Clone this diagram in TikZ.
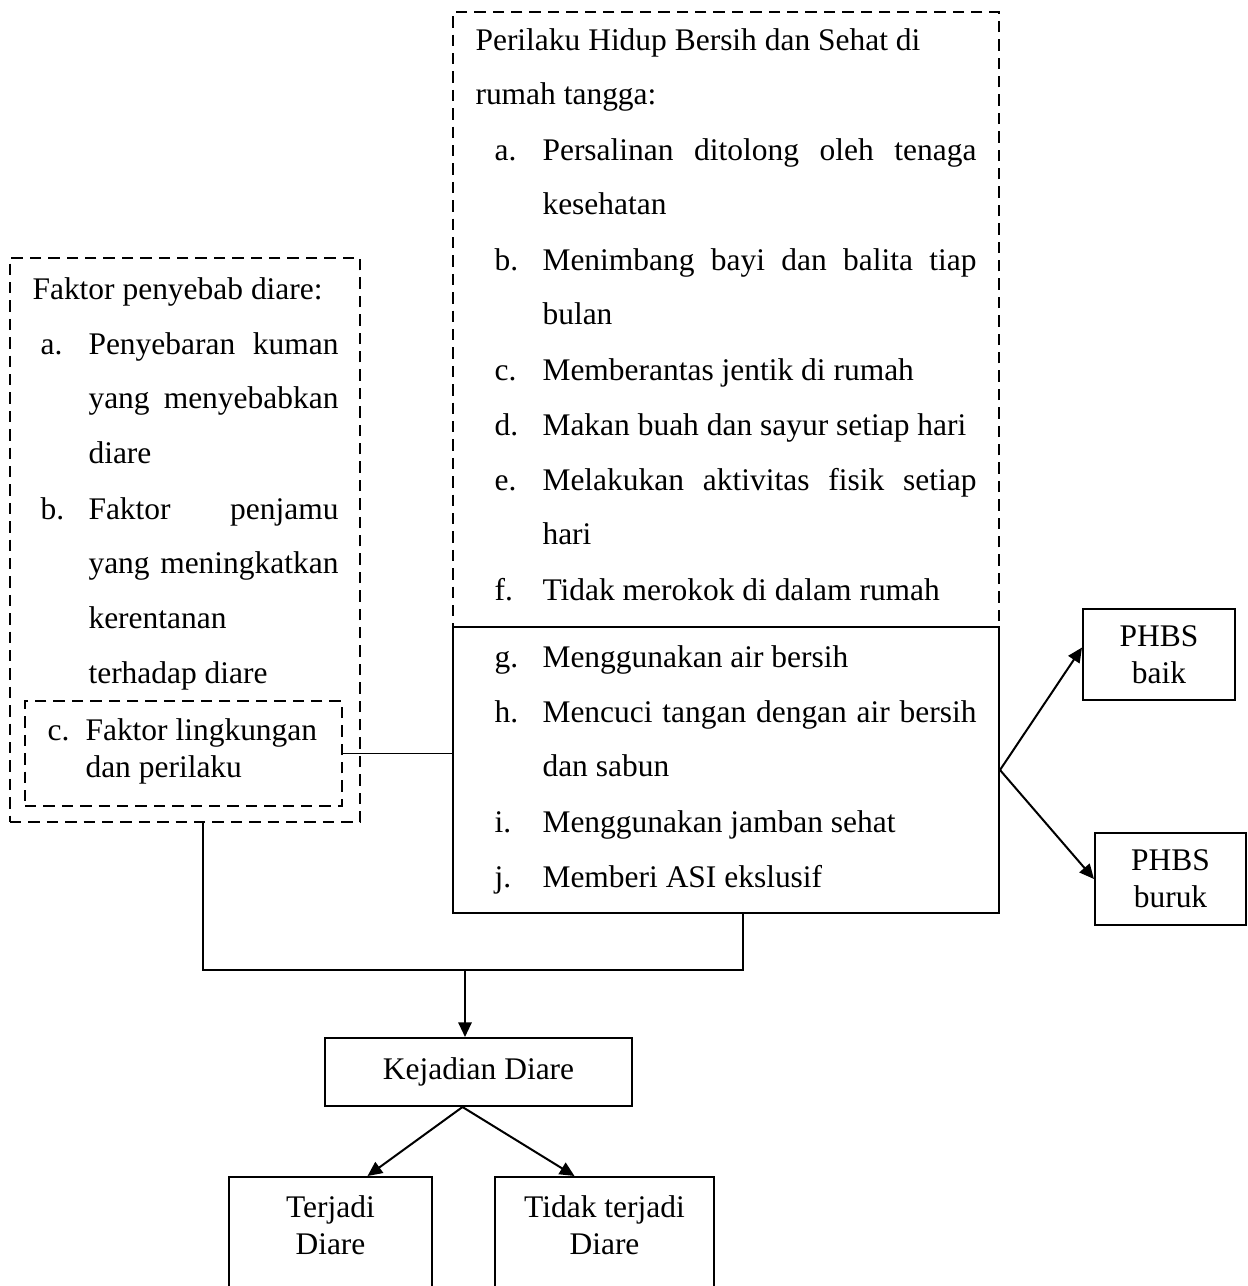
\documentclass[tikz,border=0pt]{standalone}
\usepackage{fontspec}
\setmainfont{Liberation Serif}
\usetikzlibrary{fit,calc,arrows.meta}
\newcommand{\jl}[2]{\leavevmode\hbox to #1{\spaceskip=0.25em plus 1fil minus 0.1em\relax #2}}

\begin{document}
\begin{tikzpicture}[x=0.375pt,y=-0.375pt]
 	\tikzstyle{box}=[rectangle, draw=black, line width=0.75pt, inner sep=0pt]
 	\tikzstyle{dbox}=[box, dash pattern=on 4.3pt off 2.6pt]
 	\tikzstyle{txt}=[inner sep=0pt, anchor=base west, align=flush left, font={\fontsize{11.8pt}{20.6pt}\selectfont}]
 	\tikzstyle{ctxt}=[inner sep=0pt, align=flush center, font={\fontsize{11.8pt}{13.8pt}\selectfont}]
 	\tikzstyle{connect}=[line width=0.75pt, -{Triangle[length=5.5pt, width=5pt]}]
 	\tikzstyle{wire}=[line width=0.75pt]
 	\useasboundingbox (0,0) rectangle (1248,1286);
 	\node[dbox, fit={(453,12) (999,627)}] (phbsBox) {};
 	\node[box, fit={(453,627) (999,913)}] (hhBox) {};
 	\node[dbox, fit={(10,258) (360,822)}] (faktorBox) {};
 	\node[dbox, fit={(25,701) (342,806)}] (lingBox) {};
 	\node[box, fit={(325,1038) (632,1106)}] (kejadian) {};
 	\node[box, fit={(229,1177) (432,1300)}] (terjadi) {};
 	\node[box, fit={(495,1177) (714,1300)}] (tidak) {};
 	\node[box, fit={(1083,609) (1235,700)}] (baik) {};
 	\node[box, fit={(1095,833) (1246,925)}] (buruk) {};
 	\node[ctxt] (kejadianTxt) at (kejadian.center) {Kejadian Diare};
 	\node[ctxt] (baikTxt) at (baik.center) {PHBS\\baik};
 	\node[ctxt] (burukTxt) at (buruk.center) {PHBS\\buruk};
 	\node[ctxt, anchor=north] (terjadiTxt) at (330.5,1195) {Terjadi\\Diare};
 	\node[ctxt, anchor=north] (tidakTxt) at (604.5,1195) {Tidak terjadi\\Diare};
 	\node[txt, text width=190pt] (phbsHead) at (475,50) {Perilaku Hidup Bersih dan Sehat di\\rumah tangga:};
 	\node[txt] (la) at (494,160) {a.};
 	\node[txt, text width=163pt] (ia) at (542,160) {\jl{162.75pt}{Persalinan ditolong oleh tenaga}\\kesehatan};
 	\node[txt] (lb) at (494,270) {b.};
 	\node[txt, text width=163pt] (ib) at (542,270) {\jl{162.75pt}{Menimbang bayi dan balita tiap}\\bulan};
 	\node[txt] (lc) at (494,380) {c.};
 	\node[txt] (ic) at (542,380) {Memberantas jentik di rumah};
 	\node[txt] (ld) at (494,435) {d.};
 	\node[txt] (id) at (542,435) {Makan buah dan sayur setiap hari};
 	\node[txt] (le) at (494,490) {e.};
 	\node[txt, text width=163pt] (ie) at (542,490) {\jl{162.75pt}{Melakukan aktivitas fisik setiap}\\hari};
 	\node[txt] (lf) at (494,600) {f.};
 	\node[txt] (if) at (542,600) {Tidak merokok di dalam rumah};
 	\node[txt] (lg) at (494,667) {g.};
 	\node[txt] (ig) at (542,667) {Menggunakan air bersih};
 	\node[txt] (lh) at (494,722) {h.};
 	\node[txt, text width=163pt] (ih) at (542,722) {\jl{162.75pt}{Mencuci tangan dengan air bersih}\\dan sabun};
 	\node[txt] (li) at (494,832) {i.};
 	\node[txt] (ii) at (542,832) {Menggunakan jamban sehat};
 	\node[txt] (lj) at (494,887) {j.};
 	\node[txt] (ij) at (542,887) {Memberi ASI ekslusif};
 	\node[txt] (faktorHead) at (32,299) {Faktor penyebab diare:};
 	\node[txt] (fa) at (40,354) {a.};
 	\node[txt, text width=94pt] (fta) at (88,354) {\jl{93.75pt}{Penyebaran kuman}\\\jl{93.75pt}{yang menyebabkan}\\diare};
 	\node[txt] (fb) at (40,519) {b.};
 	\node[txt, text width=94pt] (ftb) at (88,519) {\jl{93.75pt}{Faktor penjamu}\\\jl{93.75pt}{yang meningkatkan}\\kerentanan\\terhadap diare};
 	\node[txt] (fc) at (47,740) {c.};
 	\node[txt, text width=90pt, font={\fontsize{11.8pt}{14.2pt}\selectfont}] (ftc) at (85,740) {Faktor lingkungan\\dan perilaku};
 	\coordinate (jL) at (203,970);
 	\coordinate (jR) at (743,970);
 	\coordinate (jM) at (465,970);
 	\draw[line width=0.5pt] (lingBox.east) -- (lingBox.east -| hhBox.west);
 	\draw[wire] (faktorBox.south -| jL) -- (jL) -- (jR) -- (hhBox.south -| jR);
 	\draw[connect] (jM) -- (kejadian.north -| jM);
 	\draw[connect] ($(kejadian.south)+(-16,0)$) -- ($(terjadi.north)+(37,0)$);
 	\draw[connect] ($(kejadian.south)+(-16,0)$) -- ($(tidak.north)+(-30,0)$);
 	\draw[connect] (hhBox.east) -- ($(baik.west)+(0,-7)$);
 	\draw[connect] (hhBox.east) -- (buruk.west);
\end{tikzpicture}
\end{document}
